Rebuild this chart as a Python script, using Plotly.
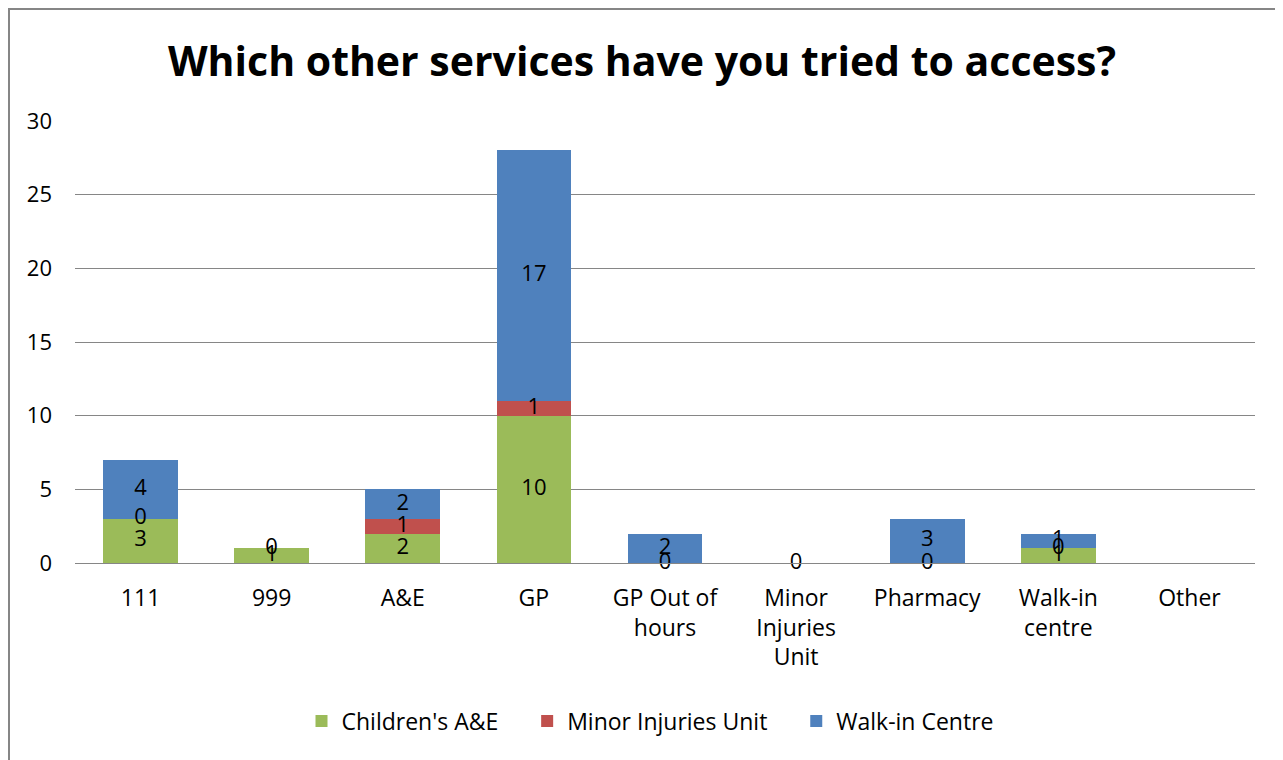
import plotly.graph_objects as go

categories = ["111", "999", "A&E", "GP", "GP Out of<br>hours", "Minor<br>Injuries<br>Unit",
              "Pharmacy", "Walk-in<br>centre", "Other"]
childrens_ae = [3, 1, 2, 10, 0, 0, 0, 1, None]
minor_injuries = [0, 0, 1, 1, None, None, None, 0, None]
walk_in = [4, None, 2, 17, 2, None, 3, 1, None]

series = [("Children's A&E", childrens_ae, "#9BBB59"),
          ("Minor Injuries Unit", minor_injuries, "#C0504D"),
          ("Walk-in Centre", walk_in, "#4F81BD")]

pad = "\u00a0" * 4  # extra room between legend entries

fig = go.Figure()
for k, (name, vals, col) in enumerate(series):
    shown = name + (pad if k < len(series) - 1 else "")
    fig.add_trace(go.Bar(x=categories, y=[v if v is not None else 0 for v in vals], name=shown,
                         marker=dict(color=col, line=dict(width=0))))

# data labels at the middle of each segment (zeros shown at the stack base)
base = [0] * len(categories)
lx, ly, lt = [], [], []
for name, vals, col in series:
    for i, v in enumerate(vals):
        if v is None:
            continue
        lx.append(categories[i])
        ly.append(base[i] + v / 2)
        lt.append(str(v))
        base[i] += v
fig.add_trace(go.Scatter(x=lx, y=ly, text=lt, mode="text", showlegend=False, cliponaxis=False,
                         textfont=dict(size=22, color="black", family="Open Sans"),
                         hoverinfo="skip"))

# page has an 8px body margin, so the figure is laid out 8px up/left
W, H = 1283, 760
L, R, T, B = 67, 36, 113, 205
pw, ph = W - L - R, H - T - B

fig.update_layout(
    width=W, height=H, barmode="stack", bargap=0.43,
    paper_bgcolor="white", plot_bgcolor="white",
    margin=dict(l=L, r=R, t=T, b=B),
    font=dict(family="Open Sans", size=20, color="black"),
    title=dict(text="<b>Which other services have you tried to access?</b>",
               x=634 / W, xanchor="center", y=1 - 54 / H, yanchor="middle",
               font=dict(size=41, family="Open Sans", color="black")),
    legend=dict(orientation="h", x=(642 - L) / pw, xanchor="center", y=(555 - 713) / ph,
                yanchor="middle", font=dict(size=23), traceorder="normal", itemwidth=30),
    xaxis=dict(showgrid=False, showline=True, linecolor="#868686", linewidth=1,
               ticks="", tickfont=dict(size=23), tickangle=0, ticklabelstandoff=14,
               fixedrange=True),
    yaxis=dict(range=[0, 30], dtick=5, showgrid=True, gridcolor="#868686", gridwidth=1,
               zeroline=False, showline=False, ticks="", ticklabelstandoff=22,
               tickfont=dict(size=22), fixedrange=True),
    shapes=[dict(type="rect", xref="paper", yref="paper",
                 x0=(1 - L) / pw, x1=(1271 - L) / pw, y0=(555 - 770) / ph, y1=(555 - 1) / ph,
                 line=dict(color="#868686", width=2), fillcolor="rgba(0,0,0,0)", layer="below")],
)

fig.write_html("out.html")
